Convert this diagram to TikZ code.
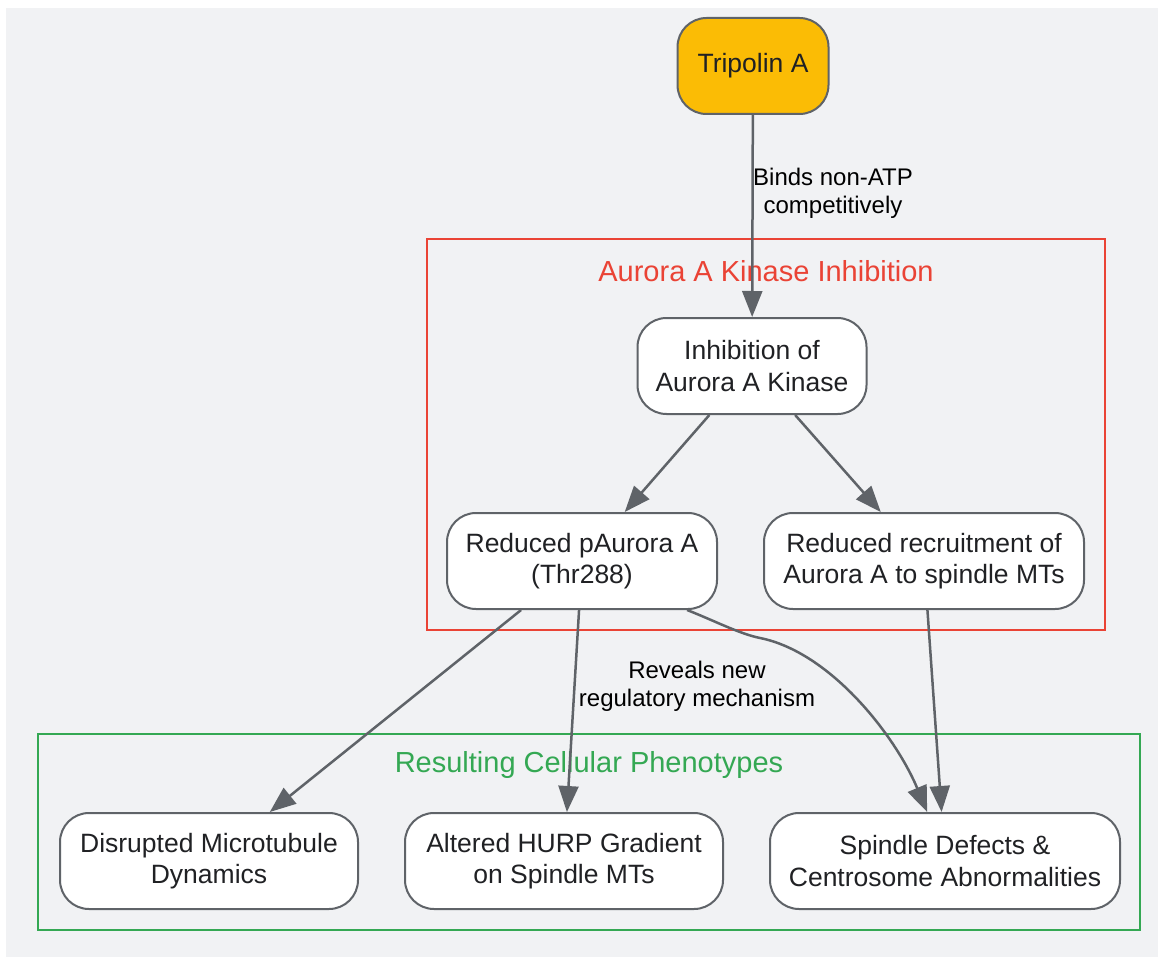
\documentclass[tikz,border=0pt]{standalone}
\usepackage{fontspec}
\setmainfont{Liberation Sans}
\usepackage{tikz}
\usetikzlibrary{arrows.meta}
\definecolor{bgcol}{HTML}{F1F2F4}
\definecolor{edgecol}{HTML}{5F6368}
\definecolor{txtcol}{HTML}{202124}
\definecolor{drugcol}{HTML}{FBBC05}
\definecolor{redcol}{HTML}{EA4335}
\definecolor{greencol}{HTML}{34A853}
\tikzset{
	box/.style={draw=edgecol, line width=2pt, fill=white, rounded corners=29pt, minimum height=96pt, inner sep=0pt, align=center, text=txtcol, font=\fontsize{26.5}{31.5}\selectfont},
	drug/.style={box, fill=drugcol},
	arr/.style={draw=edgecol, line width=2.5pt, -{Triangle[length=26pt,width=20pt]}},
	elabel/.style={align=center, text=black, font=\fontsize{24}{28}\selectfont},
	clustertitle/.style={font=\fontsize{29}{34}\selectfont},
}

\begin{document}
\begin{tikzpicture}[x=1pt, y=-1pt]
		%%%%% START %%%%%
		
		\useasboundingbox (0, 0) rectangle (1158, 957);
		\fill[bgcol] (6, 8) rectangle (1158, 957);
		
		% groups
		\draw[line width=2pt, color=redcol] (427, 239) rectangle (1105, 630);
		\node[clustertitle, text=redcol] (inhibtitle) at (766, 271) {Aurora A Kinase Inhibition};
		\draw[line width=2pt, color=greencol] (38, 734) rectangle (1140, 930);
		\node[clustertitle, text=greencol] (phenotitle) at (589, 765) {Resulting Cellular Phenotypes};
		
		% nodes
		\node[drug, minimum width=151pt] (tripolin) at (753, 66) {Tripolin A};
		\node[box, minimum width=229pt] (inhib) at (752, 366) {Inhibition of\\Aurora A Kinase};
		\node[box, minimum width=270pt] (paurora) at (582, 561) {Reduced pAurora A\\(Thr288)};
		\node[box, minimum width=320pt] (recruit) at (924, 561) {Reduced recruitment of\\Aurora A to spindle MTs};
		\node[box, minimum width=298pt] (microtub) at (209, 861) {Disrupted Microtubule\\Dynamics};
		\node[box, minimum width=318pt] (hurp) at (564, 861) {Altered HURP Gradient\\on Spindle MTs};
		\node[box, minimum width=350pt] (spindle) at (945, 861) {Spindle Defects \&\\Centrosome Abnormalities};
		
		% edges
		\draw[arr] (tripolin) -- (inhib);
		\node[elabel] (bindlabel) at (833, 193) {Binds non-ATP\\competitively};
		\draw[arr] (inhib) -- (paurora);
		\draw[arr] (inhib) -- (recruit);
		\draw[arr] (paurora) -- (microtub);
		\draw[arr] (paurora) -- (hurp);
		\node[elabel] (reveallabel) at (697, 686) {Reveals new\\regulatory mechanism};
		\draw[arr] (paurora.-25) .. controls (715, 621) and (740, 634) .. (760, 638)
			.. controls (830, 652) and (895, 735) .. (spindle.110);
		\draw[arr] (recruit) -- (spindle);
		
		%%%%% END %%%%%
	\end{tikzpicture}
\end{document}
